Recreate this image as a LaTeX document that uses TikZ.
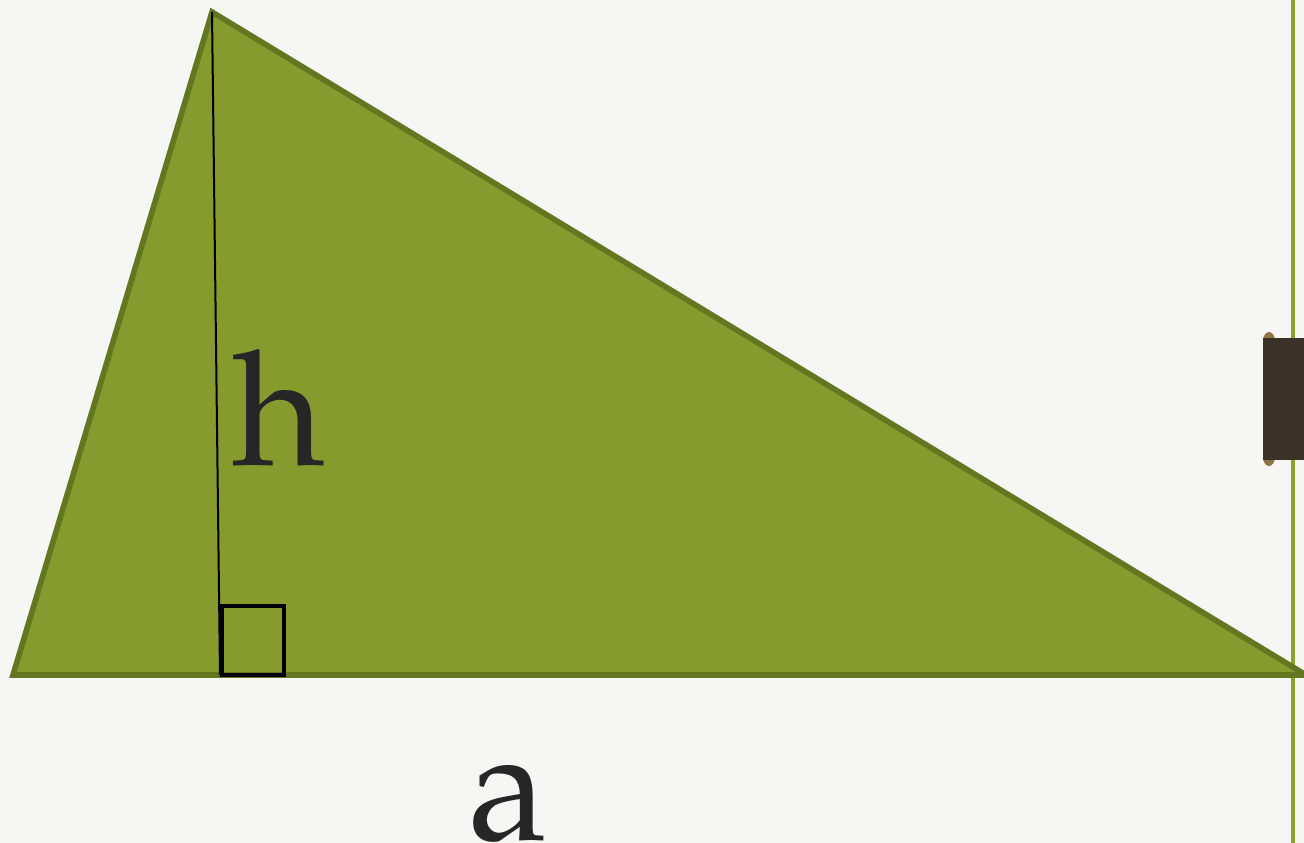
\documentclass[tikz,border=0pt]{standalone}
\usepackage[T1]{fontenc}
\begin{document}
\begin{tikzpicture}[x=0.75pt,y=-0.75pt,
  tri/.style={fill=trifill,draw=triedge,line width=4.2pt,line join=miter},
  thin/.style={draw=black,line width=1.5pt},
  lbl/.style={inner sep=0pt,anchor=base west,font=\fontfamily{ppl}\fontsize{120}{120}\selectfont,text=black!85}]
\definecolor{trifill}{HTML}{869A2E}
\definecolor{triedge}{HTML}{62771F}
\definecolor{bg}{HTML}{F6F6F5}
\definecolor{vline}{HTML}{8CA22C}
\definecolor{dark}{HTML}{3A3229}
\definecolor{tabcap}{HTML}{8E7548}
\fill[bg] (0,0) rectangle (1304,843);
\useasboundingbox (0,0) rectangle (1304,843);
% vertical line at right
\draw[vline,line width=2.4pt] (1293,0) -- (1293,843);
% dark tab
\fill[tabcap] (1269,341) ellipse (6 and 9);
\fill[tabcap] (1269,457) ellipse (6 and 9);
\fill[dark] (1263,338) rectangle (1304,460);
% triangle
\coordinate (A) at (212,12);
\coordinate (B) at (13,675);
\coordinate (C) at (1306,675);
\coordinate (F) at (220,675);
\path[tri] (A) -- (B) -- (C) -- cycle;
% altitude
\draw[thin] (A) -- (F);
% right angle mark
\draw[thin,line width=2.8pt] (222,675) rectangle (284,606);
% labels
\node[lbl] (h) at (232,465) {h};
\node[lbl] (a) at (468,840) {a};
\end{tikzpicture}
\end{document}
